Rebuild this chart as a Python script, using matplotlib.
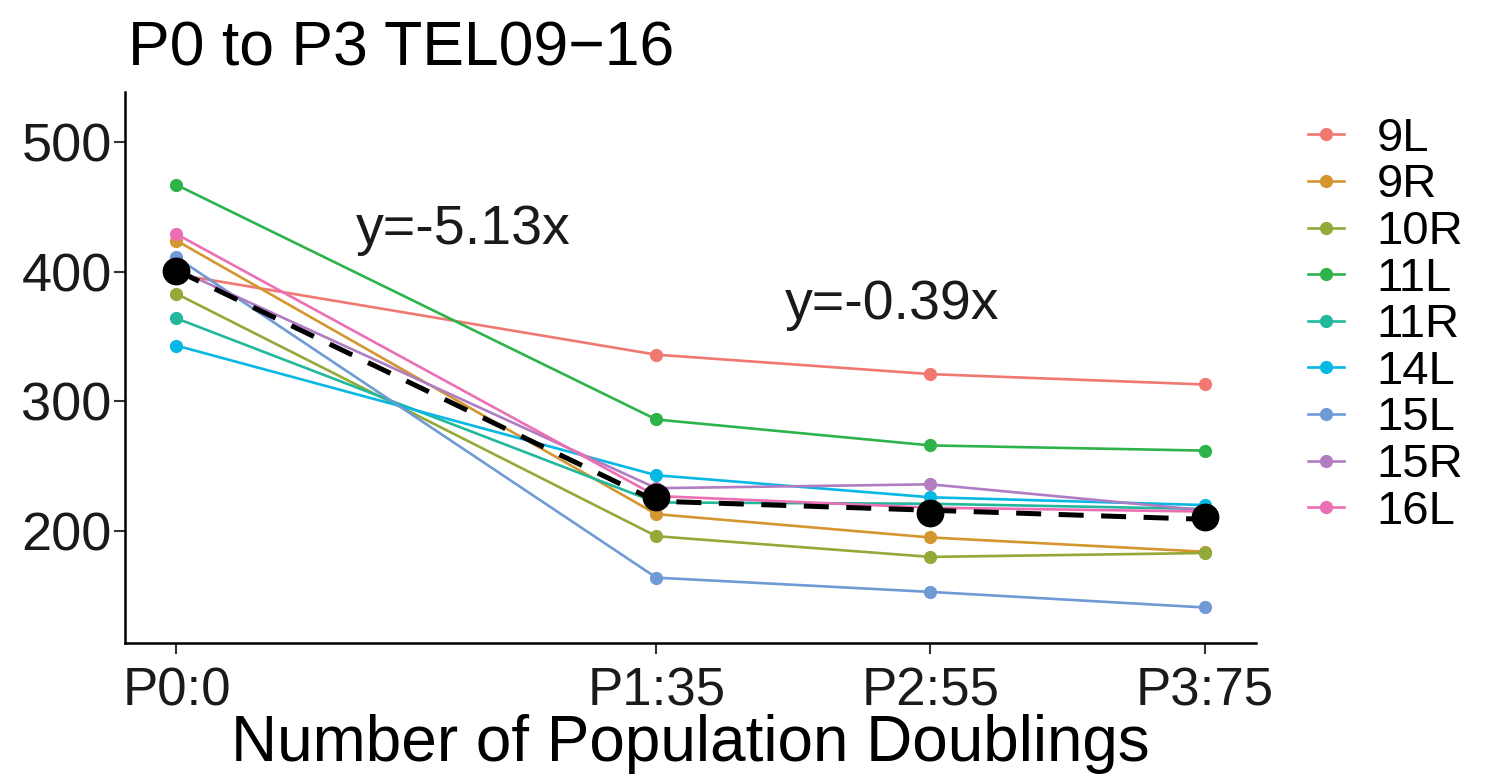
import matplotlib
matplotlib.use("Agg")
import matplotlib.pyplot as plt
from matplotlib.lines import Line2D

plt.rcParams['font.family'] = ['Liberation Sans', 'DejaVu Sans']

# population doublings at each passage
pd_x = [0, 35, 55, 75]
tick_labels = ['P0:0', 'P1:35', 'P2:55', 'P3:75']

# telomere values per chromosome arm
arms = ['9L', '9R', '10R', '11L', '11R', '14L', '15L', '15R', '16L']
v_9L = [398, 336, 321, 313]
v_9R = [424, 213, 195, 184]
v_10R = [383, 196, 180, 183]
v_11L = [467, 286, 266, 262]
v_11R = [364, 222, 221, 217]
v_14L = [343, 243, 226, 220]
v_15L = [411, 164, 153, 141]
v_15R = [402, 233, 236, 216]
v_16L = [429, 227, 218, 215]

# summary points and fitted trend (black)
summary_vals = [400.5, 226, 213.5, 211]
trend_x = [0, 35, 75]
trend_y = [401, 223, 209]

colors = ['#F07870', '#D4962E', '#93AA3A', '#2DB34A', '#21B89C',
          '#06B8E3', '#6F9AD6', '#B07CC2', '#EC6FB4']
series = [v_9L, v_9R, v_10R, v_11L, v_11R, v_14L, v_15L, v_15R, v_16L]

fig = plt.figure(figsize=(14.96, 7.76), dpi=100)
ax = fig.add_axes([0.0836, 0.1714, 0.756, 0.71])

for name, vals, col in zip(arms, series, colors):
    ax.plot(pd_x, vals, color=col, lw=1.9, marker='o', ms=8.5,
            label=name, zorder=2)

ax.plot(trend_x, trend_y, color='black', lw=3.6, ls=(0, (5, 3.5)), zorder=3)
ax.plot(pd_x, summary_vals, color='black', lw=0, marker='o', ms=19, zorder=4)

ax.text(20.9, 432, 'y=-5.13x', fontsize=40, ha='center', va='center', color='#1a1a1a')
ax.text(52.2, 374, 'y=-0.39x', fontsize=40, ha='center', va='center', color='#1a1a1a')

ax.set_xlim(-3.75, 78.75)
ax.set_ylim(113.6, 538.6)
ax.set_xticks(pd_x)
ax.set_xticklabels(tick_labels)
ax.set_yticks([200, 300, 400, 500])
ax.tick_params(axis='both', labelsize=38, length=8, width=1.5, color='#333333',
               labelcolor='#1a1a1a')
ax.tick_params(axis='x', pad=9)
ax.tick_params(axis='y', labelsize=39, pad=1.5)
for side in ['top', 'right']:
    ax.spines[side].set_visible(False)
for side in ['left', 'bottom']:
    ax.spines[side].set_linewidth(1.8)

ax.set_xlabel('Number of Population Doublings', fontsize=46, labelpad=-2, color='black')
fig.text(128 / 1496, 1 - 65 / 776, 'P0 to P3 TEL09\u221216', fontsize=45,
         ha='left', va='baseline', color='black')

handles = [Line2D([0], [0], color=c, lw=1.9, marker='o', ms=8.5) for c in colors]
fig.legend(handles, arms, loc='upper left', bbox_to_anchor=(1289 / 1496, 1 - 98 / 776),
           frameon=False, fontsize=34, handlelength=0.76, labelspacing=0.055,
           handletextpad=0.7, borderaxespad=0)

fig.savefig('out.png', dpi=100)
